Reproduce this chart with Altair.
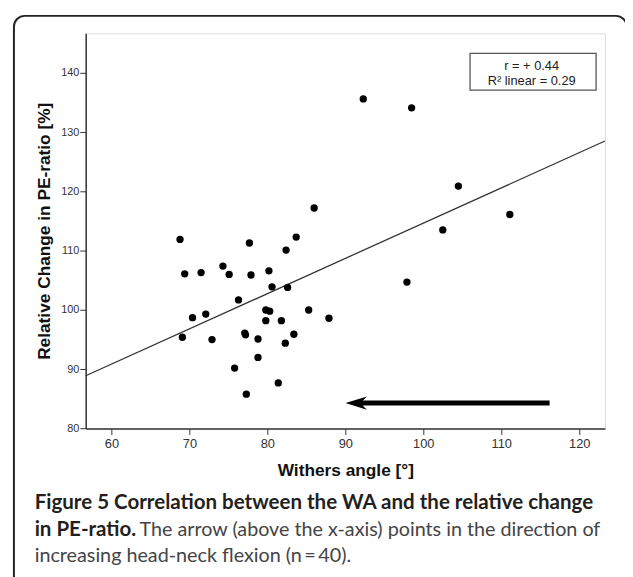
import altair as alt
import pandas as pd

# ---- data ----
withers_angle = [92.3, 98.5, 104.5, 111.1, 102.5, 97.9, 86.0, 83.7, 82.4, 77.7,
                 68.8, 69.4, 71.5, 74.3, 75.1, 77.9, 80.2, 80.6, 82.6, 76.3,
                 70.4, 72.1, 69.1, 72.9, 77.1, 77.2, 78.8, 78.8, 75.8, 77.3,
                 81.4, 79.8, 80.3, 79.8, 81.8, 83.4, 82.3, 85.3, 87.9]
pe_change = [135.6, 134.1, 120.9, 116.1, 113.5, 104.7, 117.2, 112.3, 110.1, 111.3,
             111.9, 106.1, 106.3, 107.4, 106.0, 105.9, 106.6, 103.9, 103.8, 101.7,
             98.7, 99.3, 95.4, 95.0, 96.1, 95.8, 95.1, 92.0, 90.2, 85.8,
             87.7, 100.0, 99.8, 98.2, 98.2, 95.9, 94.4, 100.0, 98.6]

fit_x = [56.7, 123.3]
fit_y = [88.9, 128.5]

arrow_x = [116.2, 91.5]
arrow_y = [84.3, 84.3]
arrow_head_x = [91.4]

legend_box_x = [106.0, 122.16]
legend_box_y = [143.3, 137.1]
legend_lines = ["r = + 0.44", "R\u00b2 linear = 0.29"]
legend_text_x = [113.9, 113.9]
legend_text_y = [140.45, 137.92]

x_ticks = [60, 70, 80, 90, 100, 110, 120]
y_ticks = [80, 90, 100, 110, 120, 130, 140]
x_domain = [56.7, 123.3]
y_domain = [80, 146.66]

caption_line1 = "Figure 5 Correlation between the WA and the relative change"
caption_line2_bold = "in PE-ratio."
caption_line2 = "The arrow (above the x-axis) points in the direction of"
caption_line3 = "increasing head-neck flexion (n\u2009=\u200940)."

x_title = "Withers angle [\u00b0]"
y_title = "Relative Change in PE-ratio  [%]"

NARROW = "Liberation Sans Narrow, Arial Narrow, Liberation Sans, Arial"
CAP_FONT = "Lato, Open Sans, sans-serif"

pts = pd.DataFrame({"wa": withers_angle, "pe": pe_change})
fit = pd.DataFrame({"wa": fit_x, "pe": fit_y})

xs = alt.Scale(domain=x_domain, nice=False, zero=False)
ys = alt.Scale(domain=y_domain, nice=False, zero=False)

x_enc = alt.X("wa:Q", scale=xs, axis=alt.Axis(
    values=x_ticks, title=x_title, grid=False, tickSize=6, labelPadding=3,
    labelFont=NARROW, labelFontSize=13, labelColor="#333",
    titleFont="Liberation Sans, Arial", titleFontSize=17.5, titleFontWeight="bold",
    titleColor="#111", titleY=48, titleBaseline="alphabetic",
    domainColor="#333", domainWidth=1.5, tickColor="#333"))
y_enc = alt.Y("pe:Q", scale=ys, axis=alt.Axis(
    values=y_ticks, title=y_title, grid=False, tickSize=6, labelPadding=1,
    labelFont=NARROW, labelFontSize=11, labelColor="#333",
    titleFont="Liberation Sans, Arial", titleFontSize=17.5, titleFontWeight="bold",
    titleColor="#111", titleX=-41.7, titleY=200, titleAngle=270,
    titleAlign="center", titleBaseline="middle",
    domainColor="#333", domainWidth=1.5, tickColor="#333"))

points = alt.Chart(pts).mark_circle(size=55, color="black", opacity=1).encode(x=x_enc, y=y_enc)

line = alt.Chart(fit).mark_line(color="#333", strokeWidth=1.3).encode(
    x=alt.X("wa:Q", scale=xs), y=alt.Y("pe:Q", scale=ys))

shaft = alt.Chart(pd.DataFrame({"x": [arrow_x[0]], "x2": [arrow_x[1]], "y": [arrow_y[0]]})).mark_rule(
    color="black", strokeWidth=5, strokeCap="butt").encode(
    x=alt.X("x:Q", scale=xs), x2="x2:Q", y=alt.Y("y:Q", scale=ys))

head = alt.Chart(pd.DataFrame({"x": arrow_head_x, "y": [arrow_y[0]]})).mark_point(
    shape="M -1 0 L 1 -0.62 Q 0.45 -0.1 0.45 0 Q 0.45 0.1 1 0.62 Z",
    size=470, filled=True, color="black", opacity=1, strokeWidth=0).encode(
    x=alt.X("x:Q", scale=xs), y=alt.Y("y:Q", scale=ys))

box = alt.Chart(pd.DataFrame({"x": [legend_box_x[0]], "x2": [legend_box_x[1]],
                              "y": [legend_box_y[0]], "y2": [legend_box_y[1]]})).mark_rect(
    fill="white", stroke="#555", strokeWidth=1.3).encode(
    x=alt.X("x:Q", scale=xs), x2="x2:Q", y=alt.Y("y:Q", scale=ys), y2="y2:Q")

legend_txt = alt.Chart(pd.DataFrame({"t": legend_lines, "x": legend_text_x, "y": legend_text_y})).mark_text(
    font=NARROW, fontSize=13, color="#222", align="center", baseline="alphabetic").encode(
    x=alt.X("x:Q", scale=xs), y=alt.Y("y:Q", scale=ys), text="t:N")

# outer rounded frame (decoration around figure)
frame = alt.Chart(pd.DataFrame({"a": [0]})).mark_rect(
    fill=None, stroke="#222", strokeWidth=2, cornerRadius=11).encode(
    x=alt.value(-72.7), x2=alt.value(548), y=alt.value(-17.7), y2=alt.value(560))

def cap(text, x, y, bold):
    return alt.Chart(pd.DataFrame({"t": [text]})).mark_text(
        font=CAP_FONT, fontSize=20.8 if bold else 20, fontWeight="bold" if bold else "normal",
        color="#231f20" if bold else "#444", align="left", baseline="alphabetic").encode(
        x=alt.value(x), y=alt.value(y), text="t:N")

captions = [
    cap(caption_line1, -51.7, 482.3, True),
    cap(caption_line2_bold, -51.7, 509.3, True),
    cap(caption_line2, 54.5, 509.3, False),
    cap(caption_line3, -51.7, 535.5, False),
]

chart = alt.layer(frame, line, box, legend_txt, shaft, head, points, *captions).properties(
    width=526, height=400.3,
    padding={"left": 78.7, "top": 22, "right": 20.3, "bottom": 146.7},
    autosize=alt.AutoSizeParams(type="none"),
).configure_view(stroke="#666", strokeWidth=1.5).configure(background="white")

chart.save("out.html", embed_options={"renderer": "svg", "actions": False})
